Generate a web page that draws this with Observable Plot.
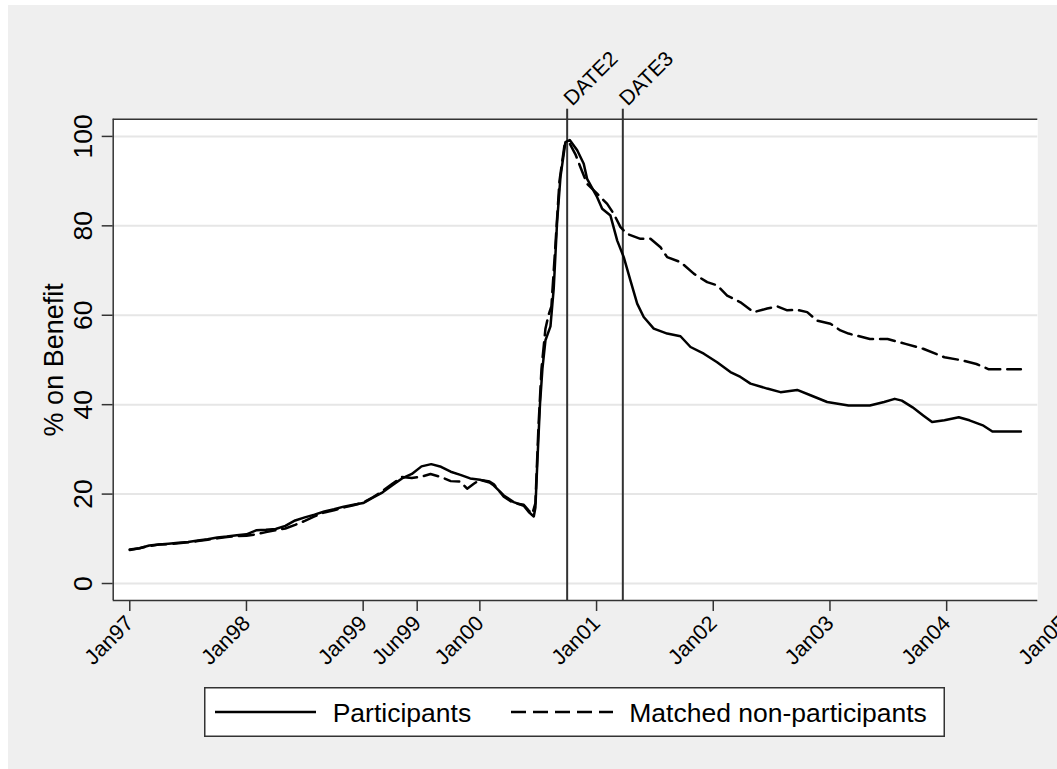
<!DOCTYPE html>
<html><head><meta charset="utf-8">
<script src="https://cdn.jsdelivr.net/npm/d3@7"></script>
<script src="https://cdn.jsdelivr.net/npm/@observablehq/plot@0.6"></script>
<style>
html,body{margin:0;padding:0;background:#fff;}
#wrap{position:absolute;left:8px;top:5px;width:1049px;height:764px;background:#efefef;overflow:hidden;font-family:"Liberation Sans",Arial,Helvetica,sans-serif;}
#chart{position:absolute;left:0;top:0;}
#legend{position:absolute;left:196px;top:682px;}
</style></head>
<body><div id="wrap"><div id="chart"></div><div id="legend"></div></div>
<script>
// ---- data (time in decimal years) ----
const participantsTime = [
 1997.000,1997.083,1997.167,1997.250,1997.333,1997.417,1997.500,1997.583,1997.667,1997.750,1997.833,1997.917,
 1998.000,1998.083,1998.167,1998.250,1998.333,1998.417,1998.500,1998.583,1998.667,1998.750,1998.833,1998.917,
 1999.000,1999.083,1999.167,1999.250,1999.333,1999.417,1999.500,1999.583,1999.667,1999.750,1999.833,1999.917,
 2000.000,2000.083,2000.120,2000.205,2000.290,2000.376,2000.419,2000.462,2000.476,2000.494,2000.515,2000.536,
 2000.562,2000.605,2000.633,2000.662,2000.691,2000.733,2000.770,2000.834,2000.890,2000.919,2001.005,2001.048,
 2001.119,2001.177,2001.233,2001.290,2001.348,2001.404,2001.490,2001.605,2001.719,2001.805,2001.919,2002.033,
 2002.147,2002.233,2002.319,2002.462,2002.576,2002.719,2002.833,2002.976,2003.159,2003.342,2003.464,2003.555,
 2003.616,2003.708,2003.799,2003.875,2003.981,2004.104,2004.195,2004.316,2004.392,2004.636
];
const participantsValue = [
 7.5,7.9,8.5,8.7,8.9,9.1,9.3,9.6,9.9,10.3,10.5,10.8,
 11.0,11.9,12.0,12.2,12.9,14.1,14.8,15.4,16.1,16.6,17.2,17.6,
 18.0,19.2,20.4,22.0,23.5,24.5,26.2,26.7,26.1,25.0,24.3,23.5,
 23.2,22.6,21.9,19.7,18.2,17.4,16.0,15.0,17.0,28.0,40.0,48.0,
 54.4,57.5,66.0,81.0,91.0,98.7,99.2,96.9,93.9,90.5,86.4,83.8,
 82.3,76.7,73.0,67.8,62.6,59.6,57.0,55.9,55.3,52.9,51.4,49.5,
 47.3,46.2,44.7,43.6,42.8,43.3,42.1,40.6,39.8,39.8,40.6,41.3,
 40.9,39.4,37.6,36.1,36.5,37.2,36.5,35.3,34.0,34.0
];
const matchedTime = [
 1997.000,1997.083,1997.167,1997.250,1997.333,1997.417,1997.500,1997.583,1997.667,1997.750,1997.833,1997.917,
 1998.000,1998.083,1998.167,1998.250,1998.333,1998.417,1998.500,1998.583,1998.667,1998.750,1998.833,1998.917,
 1999.000,1999.083,1999.167,1999.250,1999.333,1999.417,1999.500,1999.577,1999.667,1999.750,1999.833,1999.891,
 1999.948,2000.000,2000.083,2000.120,2000.205,2000.290,2000.376,2000.419,2000.450,2000.476,2000.502,2000.528,
 2000.562,2000.588,2000.613,2000.648,2000.682,2000.725,2000.768,2000.819,2000.862,2000.919,2001.005,2001.091,
 2001.147,2001.205,2001.262,2001.376,2001.462,2001.548,2001.605,2001.719,2001.833,2001.948,2002.033,2002.119,
 2002.233,2002.347,2002.462,2002.548,2002.634,2002.719,2002.805,2002.890,2003.004,2003.090,2003.159,2003.342,
 2003.494,2003.647,2003.799,2003.981,2004.134,2004.255,2004.362,2004.636
];
const matchedValue = [
 7.6,7.9,8.4,8.7,8.8,9.0,9.2,9.5,9.8,10.1,10.4,10.6,
 10.7,11.0,11.5,11.9,12.3,13.1,14.0,15.0,15.9,16.4,17.0,17.5,
 18.1,19.3,20.7,22.3,23.8,23.6,23.9,24.5,23.8,22.9,22.8,21.2,
 22.3,23.2,22.8,22.2,19.4,18.0,17.6,16.3,15.6,18.0,35.0,48.0,
 57.0,60.0,62.0,76.0,90.0,98.0,98.5,96.0,93.1,89.4,87.2,84.9,
 82.7,79.7,78.2,77.1,77.1,75.2,73.0,71.9,69.3,67.4,66.7,64.4,
 62.9,60.7,61.5,62.0,61.1,61.2,60.7,58.8,58.1,56.6,55.9,54.7,
 54.7,53.6,52.5,50.6,49.9,49.1,47.9,47.9
];
const xTickValues = [1997, 1998, 1999, 1999.463, 2000, 2001, 2002, 2003, 2004, 2005];
const xTickLabels = ["Jan97","Jan98","Jan99","Jun99","Jan00","Jan01","Jan02","Jan03","Jan04","Jan05"];
const eventTimes = [2000.748, 2001.225];
const eventLabels = ["DATE2", "DATE3"];
const yTicks = [0, 20, 40, 60, 80, 100];
const yTitle = "% on Benefit";
const seriesNames = ["Participants", "Matched non-participants"];

const xDomain = [1996.858, 2004.781];
const yDomain = [-3.8, 103.85];

const partData = participantsTime.map((t, i) => ({t, v: participantsValue[i]}));
const matchedData = matchedTime.map((t, i) => ({t, v: matchedValue[i]}));
const xTickData = xTickValues.map((v, i) => ({v, label: xTickLabels[i]}));
const eventData = eventTimes.map((v, i) => ({v, label: eventLabels[i]}));

const axisColor = "#333";

const chart = Plot.plot({
  width: 1049, height: 675,
  marginLeft: 104.7, marginRight: 19.7, marginTop: 113.7, marginBottom: 80,
  style: {background: "#efefef", fontFamily: "Liberation Sans, Arial, Helvetica, sans-serif", color: "black", overflow: "hidden"},
  x: {type: "linear", domain: xDomain},
  y: {type: "linear", domain: yDomain},
  marks: [
    Plot.frame({fill: "white", stroke: "none"}),
    Plot.gridY(yTicks, {stroke: "#e6e6e6", strokeOpacity: 1, strokeWidth: 2}),
    Plot.ruleX(eventTimes, {y1: yDomain[0], y2: yDomain[1], stroke: axisColor, strokeWidth: 2}),
    Plot.line(matchedData, {x: "t", y: "v", stroke: "black", strokeWidth: 2.5, strokeDasharray: "15,7"}),
    Plot.line(partData, {x: "t", y: "v", stroke: "black", strokeWidth: 2.5}),
    Plot.ruleY([yDomain[0]], {stroke: axisColor, strokeWidth: 1.5}),
    Plot.ruleY([yDomain[1]], {stroke: axisColor, strokeWidth: 1.5}),
    Plot.ruleX([xDomain[0]], {stroke: axisColor, strokeWidth: 1.5}),
    Plot.axisX(xTickValues, {anchor: "bottom", tickSize: 11, fill: "none", label: null, stroke: axisColor, strokeWidth: 1.5}),
    Plot.axisX(eventTimes, {anchor: "top", tickSize: 11, fill: "none", label: null, stroke: axisColor, strokeWidth: 2}),
    Plot.axisY(yTicks, {anchor: "left", tickSize: 11, fill: "none", label: null, stroke: axisColor, strokeWidth: 1.5}),
    Plot.text(xTickData, {x: "v", text: "label", frameAnchor: "bottom", rotate: -45, textAnchor: "end", lineAnchor: "bottom", dx: 5, dy: 24, fontSize: 21.5, fill: "black"}),
    Plot.text(eventData, {x: "v", text: "label", frameAnchor: "top", rotate: -45, textAnchor: "start", lineAnchor: "bottom", dx: 5, dy: -12.5, fontSize: 21, fill: "black"}),
    Plot.text(yTicks, {y: d => d, text: d => String(d), frameAnchor: "left", rotate: -90, textAnchor: "middle", lineAnchor: "bottom", dx: -21, fontSize: 26.5, fill: "black"}),
    Plot.text([yTitle], {text: d => d, frameAnchor: "left", rotate: -90, textAnchor: "middle", lineAnchor: "bottom", dx: -50, fontSize: 27, fill: "black"})
  ]
});
document.getElementById("chart").appendChild(chart);

// ---- legend ----
const lg = d3.select("#legend").append("svg").attr("width", 741).attr("height", 50)
  .style("font-family", "Liberation Sans, Arial, Helvetica, sans-serif").style("display", "block");
lg.append("rect").attr("x", 0.75).attr("y", 0.75).attr("width", 739.5).attr("height", 48.5)
  .attr("fill", "white").attr("stroke", axisColor).attr("stroke-width", 1.5);
const items = [
  {x1: 11, x2: 112, tx: 128.7, dash: null},
  {x1: 307, x2: 409, tx: 425.3, dash: "15,7"}
];
items.forEach((it, i) => {
  const ln = lg.append("line").attr("x1", it.x1).attr("x2", it.x2).attr("y1", 25).attr("y2", 25)
    .attr("stroke", "black").attr("stroke-width", 2.5);
  if (it.dash) ln.attr("stroke-dasharray", it.dash);
  lg.append("text").attr("x", it.tx).attr("y", 34.5).attr("font-size", 26.5).attr("fill", "black").text(seriesNames[i]);
});
</script>
</body></html>
